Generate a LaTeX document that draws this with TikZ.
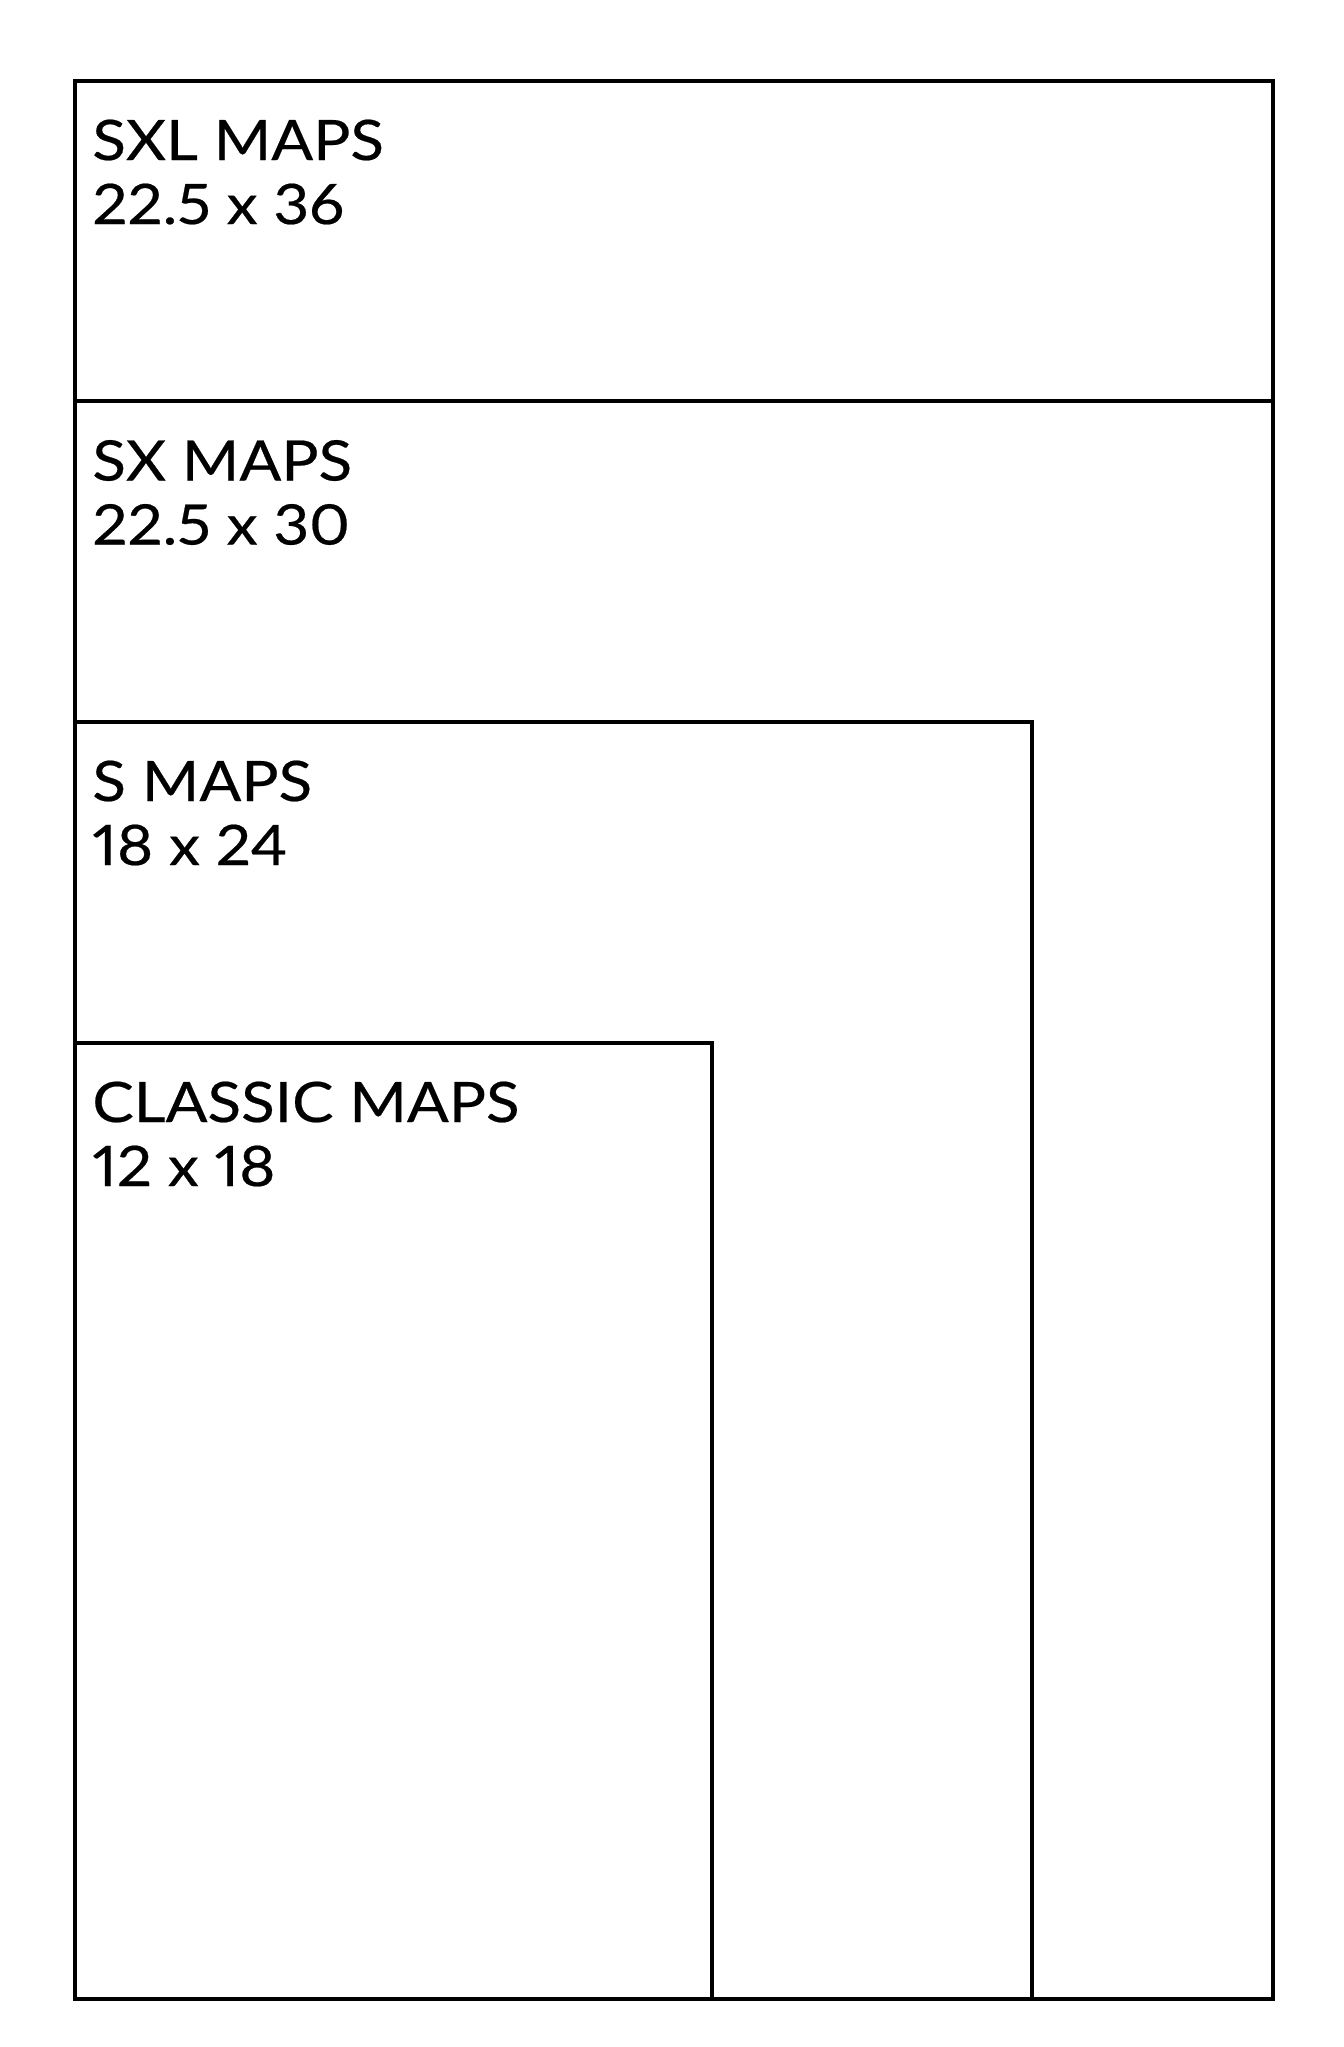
\documentclass[tikz,border=0pt]{standalone}
\usepackage{fontspec}
\setmainfont{Lato}[FakeStretch=1.11,FakeBold=0.4,Numbers=Proportional]
\begin{document}
\begin{tikzpicture}[x=0.5pt,y=-0.5pt,
  box/.style={draw=black,line width=2pt},
  lbl/.style={anchor=base west,inner sep=0pt,font=\fontsize{27.9}{32}\selectfont}]
\useasboundingbox (0,0) rectangle (1344,2047);
\coordinate (bl) at (75,1999);
\coordinate (sxltr) at (1273,80.5);
\coordinate (sxtr) at (1273,401);
\coordinate (str) at (1032,721.5);
\coordinate (ctr) at (711.5,1042.5);
\draw[box] (bl) rectangle (sxltr);
\draw[box] (bl) rectangle (sxtr);
\draw[box] (bl) rectangle (str);
\draw[box] (bl) rectangle (ctr);
\node[lbl] (sxlA) at (92,160) {SXL MAPS};
\node[lbl] (sxlB) at (92,224) {22.5 x 36};
\node[lbl] (sxA) at (92,480.5) {SX MAPS};
\node[lbl] (sxB) at (92,544.5) {22.5 x 30};
\node[lbl] (sA) at (92,801) {S MAPS};
\node[lbl] (sB) at (92,865) {18 x 24};
\node[lbl] (cA) at (92,1122) {CLASSIC MAPS};
\node[lbl] (cB) at (92,1186) {12 x 18};
\end{tikzpicture}
\end{document}
